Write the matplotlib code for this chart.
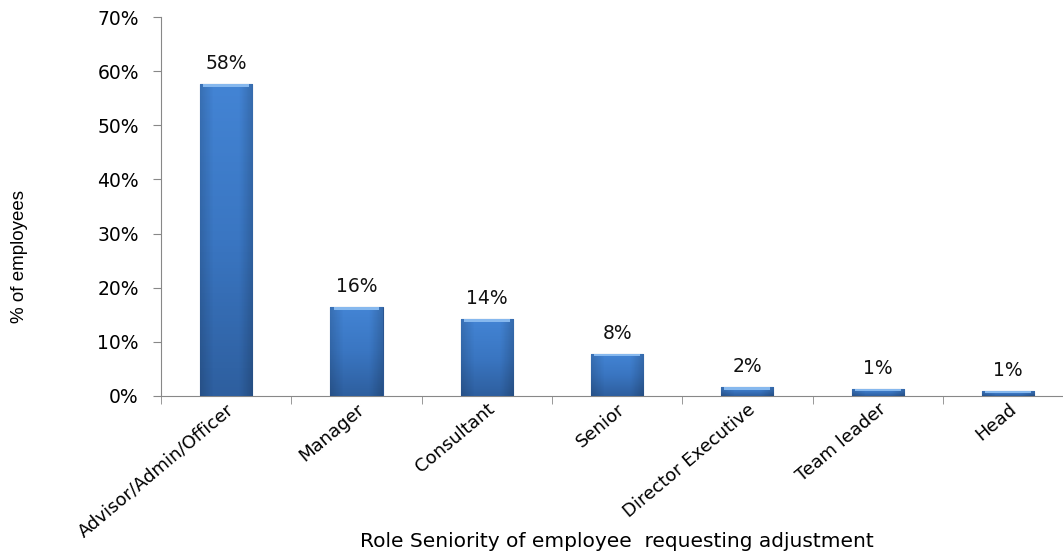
import numpy as np
import matplotlib
matplotlib.use('Agg')
import matplotlib.pyplot as plt
from matplotlib.colors import LinearSegmentedColormap

roles = ['Advisor/Admin/Officer', 'Manager', 'Consultant', 'Senior',
         'Director Executive', 'Team leader', 'Head']
share = [57.6, 16.4, 14.2, 7.8, 1.7, 1.3, 0.9]
labels = ['58%', '16%', '14%', '8%', '2%', '1%', '1%']

plt.rcParams['font.family'] = ['DejaVu Sans']

fig = plt.figure(figsize=(10.63, 5.54), dpi=100)
ax = fig.add_axes([0.1515, 0.2852, 0.858, 0.684])

x = np.arange(len(roles))
bars = ax.bar(x, share, width=0.4, color='#3a78c8', edgecolor='#2a5591', linewidth=0.8, zorder=2)

# shaded look: darker at the bottom, slightly darker edges, lighter toward the top
cmap = LinearSegmentedColormap.from_list('bar', ['#2e5f9f', '#3a76c2', '#4384d4'])
side = LinearSegmentedColormap.from_list('side', [(0, 0, 0, 0.15), (0, 0, 0, 0), (0, 0, 0, 0),
                                                  (0, 0, 0, 0), (0, 0, 0, 0.18)])
for b in bars:
    x0, w, h = b.get_x(), b.get_width(), b.get_height()
    grad = np.linspace(0, 1, 100).reshape(-1, 1)
    im = ax.imshow(grad, extent=[x0, x0 + w, 0, h], origin='lower', aspect='auto',
                   cmap=cmap, zorder=3)
    im.set_clip_path(b)
    im2 = ax.imshow(np.linspace(0, 1, 50).reshape(1, -1), extent=[x0, x0 + w, 0, h],
                    origin='lower', aspect='auto', cmap=side, zorder=4)
    im2.set_clip_path(b)
    # light bevel at top
    cap = min(0.5, h * 0.3)
    ax.fill_between([x0 + w * 0.06, x0 + w * 0.94], h - cap, h, color='#86b8ee', lw=0, zorder=5)

for xi, v, t in zip(x, share, labels):
    ax.text(xi, v + 2.0, t, ha='center', va='bottom', fontsize=13.5, color='#111111')

ax.set_xlim(-0.5, len(roles) - 0.5)
ax.set_ylim(0, 70)
ax.set_yticks(range(0, 71, 10))
ax.set_yticklabels([f'{v}%' for v in range(0, 71, 10)], fontsize=13.5)
ax.set_xticks(x)
ax.set_xticklabels(roles, rotation=40, ha='right', rotation_mode='anchor', fontsize=13)
ax.set_xticks(np.arange(len(roles) + 1) - 0.5, minor=True)
ax.tick_params(axis='x', which='major', length=0, pad=3)
ax.tick_params(axis='x', which='minor', length=6, color='#888888', direction='out')
ax.tick_params(axis='y', length=6, color='#888888', direction='out', pad=10)

for s in ['top', 'right']:
    ax.spines[s].set_visible(False)
for s in ['left', 'bottom']:
    ax.spines[s].set_color('#888888')
    ax.spines[s].set_linewidth(0.8)

fig.text(20 / 1063, 1 - 257 / 554, '% of employees', rotation=90, ha='center', va='center',
         fontsize=13.5, family=['Liberation Sans Narrow', 'Liberation Sans', 'DejaVu Sans'])
ax.set_xlabel('Role Seniority of employee  requesting adjustment', fontsize=14.5)
ax.xaxis.set_label_coords(0.5, -0.36)

fig.savefig('out.png', dpi=100)
